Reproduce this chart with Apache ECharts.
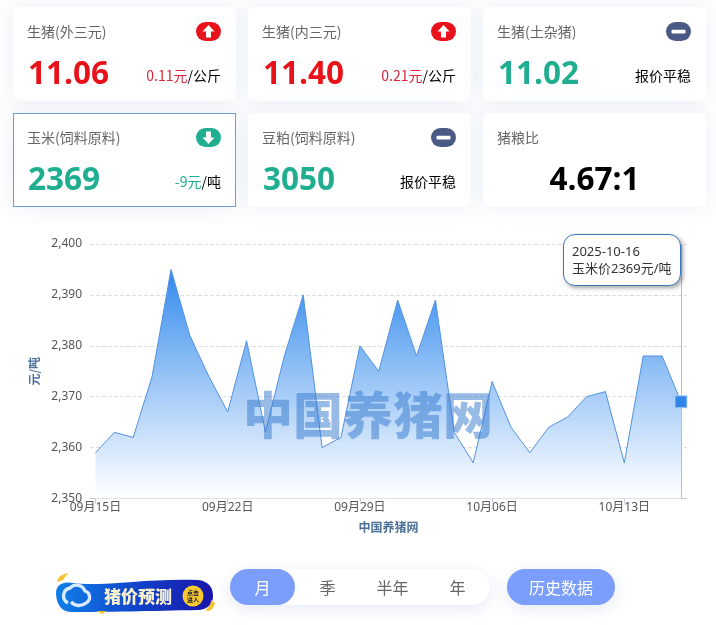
<!DOCTYPE html>
<html lang="zh"><head><meta charset="utf-8">
<script src="https://cdn.jsdelivr.net/npm/echarts@6/dist/echarts.min.js"></script>
<style>
*{box-sizing:border-box}
html,body{margin:0;padding:0;background:#fff;width:716px;height:625px;overflow:hidden;font-family:"Noto Sans CJK SC","Noto Sans",sans-serif}
#chart{position:absolute;left:0;top:0;width:716px;height:625px}
.card{position:absolute;width:223px;height:94px;background:#fff;border-radius:5px;box-shadow:0 0 22px rgba(205,215,232,.42)}
.card.sel{border:1px solid #6f9bd8;border-radius:0}
.t{position:absolute;left:14px;top:14px;font-size:14px;line-height:20px;color:#666}
.v{position:absolute;left:15px;top:44.5px;font:700 31.5px/40px "Open Sans",sans-serif}
.d{position:absolute;right:15px;top:58px;font-size:14px;line-height:20px;color:#000}
.ic{position:absolute;right:15px;top:15px;width:25px;height:19px}
.sel .t{left:13px;top:13px}.sel .v{left:14px;top:43.5px}.sel .d{right:14px;top:57px}.sel .ic{right:14px;top:14px}
.c{left:0;right:0;text-align:center;color:#000}
.seg{position:absolute;left:230px;top:569px;width:260px;height:36px;border-radius:18px;background:#fff;box-shadow:0 4px 16px rgba(190,200,225,.4);display:flex;font-size:16px;color:#666;line-height:36px;text-align:center}
.seg div{width:65px}.seg .on{background:#7b9dfb;color:#fff;border-radius:18px}
.btn{position:absolute;left:507px;top:569px;width:108px;height:36px;border-radius:18px;background:#7b9dfb;color:#fff;text-align:center;font-size:16px;line-height:36px;box-shadow:0 4px 16px rgba(190,200,225,.4)}
</style></head><body>
<div id="chart"></div>
<div id="cards"></div>
<svg style="position:absolute;left:53px;top:571px" width="162" height="44" viewBox="0 0 162 44">
<defs><linearGradient id="bn" x1="0" x2="1" y1="0" y2="0"><stop offset="0" stop-color="#0f7fe8"/><stop offset=".55" stop-color="#1140c8"/><stop offset="1" stop-color="#1a14a8"/></linearGradient></defs>
<path d="M3 22C3 13 11 10 20 12C48 16 95 7 145 9C155 10 160 16 160 25C160 34 154 38 146 39C100 40 50 41 18 41C8 41 3 32 3 22Z" fill="url(#bn)"/>
<path d="M4 11C5 6 9 3 15 2L10 9Z M152 39C156 37 158 33 158 29L162 32C161 37 157 42 152 39Z M44 40l5 3l4-3z" fill="#f5c22e"/>
<path d="M15 32a8 8 0 0 1 2-15a9 9 0 0 1 15 3a6.5 6.5 0 0 1 1 12a11 11 0 0 1-15-1" fill="none" stroke="#d8eaff" stroke-width="3.4"/>
<text x="51" y="32" font-size="17" font-weight="900" fill="#f8f2cf" font-family="Noto Sans CJK SC">猪价预测</text>
<circle cx="140" cy="25" r="10.5" fill="#f6c92f"/>
<text x="140" y="24" font-size="6" font-weight="700" text-anchor="middle" fill="#223" font-family="Noto Sans CJK SC">点击</text>
<text x="140" y="31" font-size="6" font-weight="700" text-anchor="middle" fill="#223" font-family="Noto Sans CJK SC">进入</text>
</svg>
<div class="seg" id="seg"></div>
<div class="btn">历史数据</div>
<script>
const dates=['09月15日','09月16日','09月17日','09月18日','09月19日','09月20日','09月21日','09月22日','09月23日','09月24日','09月25日','09月26日','09月27日','09月28日','09月29日','09月30日','10月01日','10月02日','10月03日','10月04日','10月05日','10月06日','10月07日','10月08日','10月09日','10月10日','10月11日','10月12日','10月13日','10月14日','10月15日','10月16日'];
const cornPrice=[2359,2363,2362,2374,2395,2382,2374,2367,2381,2363,2378,2390,2360,2362,2380,2375,2389,2378,2389,2363,2357,2373,2364,2359,2364,2366,2370,2371,2357,2378,2378,2369];
const xTickIndex=[0,7,14,21,28];
const ranges=['月','季','半年','年'];
const cardTitles=['生猪(外三元)','生猪(内三元)','生猪(土杂猪)','玉米(饲料原料)','豆粕(饲料原料)','猪粮比'];
const cardValues=['11.06','11.40','11.02','2369','3050','4.67:1'];
const cardChanges=['0.11元','0.21元','报价平稳','-9元','报价平稳',''];
const cardUnits=['/公斤','/公斤','','/吨','',''];
const cardTrend=['up','up','flat','down','flat','none'];

const col={up:'#e8131a',down:'#1fae8f',flat:'#1fae8f'};
const icCol={up:'#e8131a',down:'#1fae8f',flat:'#4a5a85'};
const icon={up:'<path d="M12.5 3l6 6.5h-3.5v6h-5v-6h-3.5z" fill="#fff"/>',down:'<path d="M12.5 16l6-6.5h-3.5v-6h-5v6h-3.5z" fill="#fff"/>',flat:'<rect x="5.5" y="7.8" width="14" height="3.6" rx="1" fill="#fff"/>'};
const xs=[13,248,483],ys=[7,113];
let h='';
cardTitles.forEach((t,i)=>{
 const tr=cardTrend[i],x=xs[i%3],y=ys[i<3?0:1];
 const ic=tr==='none'?'':`<svg class="ic" viewBox="0 0 25 19"><rect width="25" height="19" rx="9.5" fill="${icCol[tr]}"/>${icon[tr]}</svg>`;
 const val=tr==='none'?`<div class="v c">${cardValues[i]}</div>`:`<div class="v" style="color:${col[tr]}">${cardValues[i]}</div>`;
 const chgCol=tr==='up'?'#d9263a':tr==='down'?'#1fae8f':'#000';
 const d=cardChanges[i]?`<div class="d"><span style="color:${chgCol}">${cardChanges[i]}</span>${cardUnits[i]}</div>`:'';
 h+=`<div class="card${i===3?' sel':''}" style="left:${x}px;top:${y}px"><div class="t">${t}</div>${ic}${val}${d}</div>`;
});
document.getElementById('cards').innerHTML=h;
document.getElementById('seg').innerHTML=ranges.map((r,i)=>`<div class="${i===0?'on':''}">${r}</div>`).join('');

const chart=echarts.init(document.getElementById('chart'),null,{renderer:'canvas'});
const last=cornPrice.length-1;
const font='"Noto Sans","Noto Sans CJK SC",sans-serif';
chart.setOption({
 animation:false,
 grid:{left:90,right:29,top:244,bottom:126.5,containLabel:false},
 graphic:[{type:'text',z:50,left:243,top:390,style:{text:'中国养猪网',font:'900 50px "Noto Sans CJK SC"',fill:'rgba(50,120,205,.5)'}}],
 tooltip:{trigger:'axis',alwaysShowContent:true,transitionDuration:0,showContent:true,
  position:()=>[563,234],
  padding:[8,8,8,8],backgroundColor:'#fff',borderColor:'#3a76c0',borderWidth:1,borderRadius:12,
  textStyle:{color:'#333',fontSize:13,lineHeight:17,fontFamily:font},
  extraCssText:'box-shadow:2px 2px 4px rgba(90,90,90,.55);line-height:17px;',
  axisPointer:{type:'line',z:1,lineStyle:{color:'#b9bdc4',width:1,type:'solid'},label:{show:false}},
  formatter:p=>{const i=p[0].dataIndex;return '2025-'+dates[i].replace('月','-').replace('日','')+'<br/>玉米价'+cornPrice[i]+'元/吨';}
 },
 xAxis:{type:'value',min:-0.29,max:31.32,
  name:'中国养猪网',nameLocation:'middle',nameGap:23,nameTextStyle:{color:'#4d7299',fontSize:12,fontWeight:'bold',fontFamily:'"Noto Sans CJK SC"'},
  axisLine:{show:true,lineStyle:{color:'#c5cbd6'}},
  axisTick:{show:true,customValues:xTickIndex,length:5,lineStyle:{color:'#c5cbd6'}},
  splitLine:{show:false},
  axisLabel:{customValues:xTickIndex,formatter:v=>dates[v]||'',color:'#555',fontSize:12,margin:3,fontFamily:font}
 },
 yAxis:{type:'value',min:2350,max:2400,interval:10,
  name:'元/吨',nameLocation:'middle',nameGap:50,nameTextStyle:{color:'#4d7299',fontSize:12,fontWeight:'bold',fontFamily:'"Noto Sans CJK SC"'},
  axisLine:{show:false},axisTick:{show:false},
  splitLine:{lineStyle:{color:'#dedede',type:'dashed'}},
  axisLabel:{color:'#555',fontSize:12,margin:8,fontFamily:font}
 },
 series:[{type:'line',data:cornPrice.map((v,i)=>[i,v]),showAllSymbol:true,
  symbol:(v,p)=>p.dataIndex===last?'rect':'none',symbolSize:12,
  itemStyle:{color:'#2d78d4',borderColor:'#a9cdf5',borderWidth:1},
  lineStyle:{color:'#4a84cc',width:1},
  emphasis:{scale:false},
  areaStyle:{opacity:1,color:new echarts.graphic.LinearGradient(0,0,0,1,[{offset:0,color:'#2d7dd8'},{offset:1,color:'rgba(255,255,255,.9)'}])}
 }]
});
chart.dispatchAction({type:'showTip',seriesIndex:0,dataIndex:last});
</script></body></html>
